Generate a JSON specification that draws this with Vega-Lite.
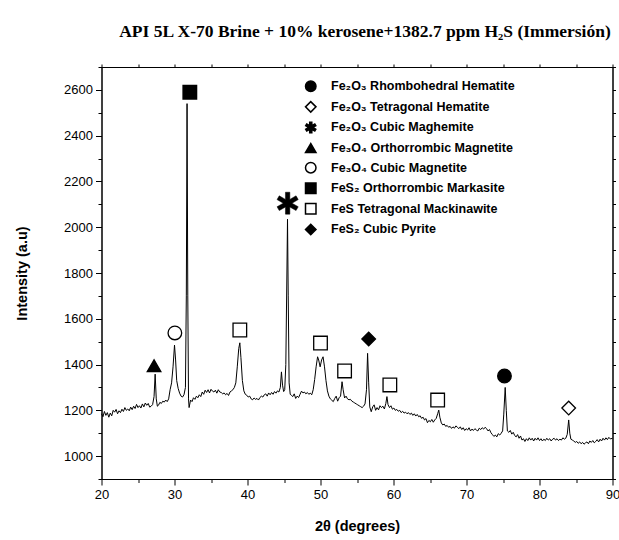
{
  "$schema": "https://vega.github.io/schema/vega-lite/v6.json",
  "autosize": "none",
  "width": 511,
  "height": 412,
  "padding": {"left": 101.5, "top": 67, "right": 7, "bottom": 61},
  "background": "white",
  "title": {
    "text": "API 5L X-70 Brine + 10% kerosene+1382.7 ppm H₂S (Immersión)",
    "font": "Liberation Serif", "fontSize": 17.5, "fontWeight": "bold", "color": "black",
    "anchor": "middle", "offset": 21, "dx": 8
  },
  "datasets": {
    "xrd": [
      {"t":20.0,"i":1185},{"t":20.2,"i":1172},{"t":20.4,"i":1195},{"t":20.6,"i":1178},{"t":20.8,"i":1190},
      {"t":21.0,"i":1170},{"t":21.2,"i":1188},{"t":21.4,"i":1176},{"t":21.6,"i":1200},{"t":21.8,"i":1192},
      {"t":22.0,"i":1204},{"t":22.2,"i":1185},{"t":22.4,"i":1198},{"t":22.6,"i":1190},{"t":22.8,"i":1205},
      {"t":23.0,"i":1195},{"t":23.2,"i":1212},{"t":23.4,"i":1200},{"t":23.6,"i":1206},{"t":23.8,"i":1198},
      {"t":24.0,"i":1214},{"t":24.2,"i":1203},{"t":24.4,"i":1218},{"t":24.6,"i":1208},{"t":24.8,"i":1226},
      {"t":25.0,"i":1212},{"t":25.2,"i":1220},{"t":25.4,"i":1210},{"t":25.6,"i":1228},{"t":25.8,"i":1215},
      {"t":26.0,"i":1232},{"t":26.2,"i":1222},{"t":26.4,"i":1230},{"t":26.6,"i":1214},{"t":26.8,"i":1218},
      {"t":27.0,"i":1225},{"t":27.2,"i":1260},{"t":27.35,"i":1358},{"t":27.5,"i":1250},{"t":27.65,"i":1218},
      {"t":27.8,"i":1222},{"t":28.0,"i":1235},{"t":28.2,"i":1230},{"t":28.4,"i":1240},{"t":28.6,"i":1236},
      {"t":28.8,"i":1245},{"t":29.0,"i":1238},{"t":29.2,"i":1250},{"t":29.4,"i":1290},{"t":29.6,"i":1320},
      {"t":29.8,"i":1390},{"t":30.0,"i":1485},{"t":30.15,"i":1420},{"t":30.3,"i":1330},{"t":30.5,"i":1296},
      {"t":30.7,"i":1275},{"t":30.9,"i":1262},{"t":31.1,"i":1258},{"t":31.3,"i":1268},{"t":31.5,"i":1300},
      {"t":31.62,"i":1700},{"t":31.72,"i":2540},{"t":31.82,"i":1700},{"t":31.92,"i":1250},{"t":32.0,"i":1212},
      {"t":32.2,"i":1245},{"t":32.4,"i":1238},{"t":32.6,"i":1255},{"t":32.8,"i":1248},{"t":33.0,"i":1262},
      {"t":33.2,"i":1255},{"t":33.4,"i":1268},{"t":33.6,"i":1260},{"t":33.8,"i":1280},{"t":34.0,"i":1270},
      {"t":34.2,"i":1288},{"t":34.4,"i":1278},{"t":34.6,"i":1290},{"t":34.8,"i":1276},{"t":35.0,"i":1292},
      {"t":35.2,"i":1284},{"t":35.4,"i":1280},{"t":35.6,"i":1288},{"t":35.8,"i":1275},{"t":36.0,"i":1290},
      {"t":36.2,"i":1280},{"t":36.4,"i":1278},{"t":36.6,"i":1272},{"t":36.8,"i":1276},{"t":37.0,"i":1268},
      {"t":37.2,"i":1274},{"t":37.4,"i":1265},{"t":37.6,"i":1280},{"t":37.8,"i":1285},{"t":38.0,"i":1290},
      {"t":38.2,"i":1300},{"t":38.4,"i":1320},{"t":38.6,"i":1390},{"t":38.8,"i":1470},{"t":38.95,"i":1495},
      {"t":39.1,"i":1430},{"t":39.3,"i":1330},{"t":39.5,"i":1285},{"t":39.7,"i":1270},{"t":39.9,"i":1266},
      {"t":40.1,"i":1258},{"t":40.3,"i":1262},{"t":40.5,"i":1250},{"t":40.7,"i":1246},{"t":40.9,"i":1254},
      {"t":41.1,"i":1248},{"t":41.3,"i":1252},{"t":41.5,"i":1245},{"t":41.7,"i":1256},{"t":41.9,"i":1262},
      {"t":42.1,"i":1258},{"t":42.3,"i":1268},{"t":42.5,"i":1272},{"t":42.7,"i":1262},{"t":42.9,"i":1276},
      {"t":43.1,"i":1268},{"t":43.3,"i":1278},{"t":43.5,"i":1270},{"t":43.7,"i":1282},{"t":43.9,"i":1275},
      {"t":44.1,"i":1285},{"t":44.3,"i":1280},{"t":44.5,"i":1300},{"t":44.65,"i":1368},{"t":44.8,"i":1310},
      {"t":44.95,"i":1282},{"t":45.1,"i":1290},{"t":45.25,"i":1400},{"t":45.4,"i":1800},{"t":45.48,"i":2035},
      {"t":45.58,"i":1700},{"t":45.7,"i":1320},{"t":45.85,"i":1270},{"t":46.0,"i":1266},{"t":46.2,"i":1260},
      {"t":46.4,"i":1272},{"t":46.6,"i":1252},{"t":46.8,"i":1262},{"t":47.0,"i":1256},{"t":47.2,"i":1270},
      {"t":47.4,"i":1284},{"t":47.6,"i":1276},{"t":47.8,"i":1280},{"t":48.0,"i":1272},{"t":48.2,"i":1278},
      {"t":48.4,"i":1270},{"t":48.6,"i":1275},{"t":48.8,"i":1268},{"t":49.0,"i":1290},{"t":49.2,"i":1335},
      {"t":49.4,"i":1390},{"t":49.6,"i":1434},{"t":49.75,"i":1420},{"t":49.95,"i":1390},{"t":50.15,"i":1420},
      {"t":50.35,"i":1434},{"t":50.55,"i":1390},{"t":50.75,"i":1330},{"t":50.95,"i":1285},{"t":51.15,"i":1262},
      {"t":51.35,"i":1250},{"t":51.55,"i":1244},{"t":51.75,"i":1238},{"t":51.95,"i":1252},{"t":52.15,"i":1262},
      {"t":52.35,"i":1240},{"t":52.55,"i":1255},{"t":52.75,"i":1262},{"t":52.95,"i":1325},{"t":53.1,"i":1290},
      {"t":53.3,"i":1254},{"t":53.5,"i":1262},{"t":53.7,"i":1250},{"t":53.9,"i":1246},{"t":54.1,"i":1248},
      {"t":54.3,"i":1240},{"t":54.5,"i":1236},{"t":54.7,"i":1232},{"t":54.9,"i":1228},{"t":55.1,"i":1224},
      {"t":55.3,"i":1220},{"t":55.5,"i":1216},{"t":55.7,"i":1212},{"t":55.9,"i":1218},{"t":56.1,"i":1228},
      {"t":56.3,"i":1290},{"t":56.45,"i":1449},{"t":56.6,"i":1320},{"t":56.75,"i":1215},{"t":56.95,"i":1194},
      {"t":57.15,"i":1215},{"t":57.35,"i":1224},{"t":57.55,"i":1200},{"t":57.75,"i":1212},{"t":57.95,"i":1202},
      {"t":58.15,"i":1220},{"t":58.35,"i":1212},{"t":58.55,"i":1218},{"t":58.75,"i":1206},{"t":58.95,"i":1230},
      {"t":59.1,"i":1260},{"t":59.25,"i":1225},{"t":59.45,"i":1212},{"t":59.65,"i":1220},{"t":59.85,"i":1205},
      {"t":60.05,"i":1210},{"t":60.25,"i":1200},{"t":60.45,"i":1204},{"t":60.65,"i":1196},{"t":60.85,"i":1200},
      {"t":61.05,"i":1190},{"t":61.25,"i":1196},{"t":61.45,"i":1188},{"t":61.65,"i":1192},{"t":61.85,"i":1185},
      {"t":62.05,"i":1190},{"t":62.25,"i":1182},{"t":62.45,"i":1188},{"t":62.65,"i":1178},{"t":62.85,"i":1185},
      {"t":63.05,"i":1175},{"t":63.25,"i":1182},{"t":63.45,"i":1172},{"t":63.65,"i":1176},{"t":63.85,"i":1165},
      {"t":64.05,"i":1170},{"t":64.25,"i":1158},{"t":64.45,"i":1164},{"t":64.65,"i":1146},{"t":64.85,"i":1156},
      {"t":65.05,"i":1150},{"t":65.25,"i":1160},{"t":65.45,"i":1148},{"t":65.65,"i":1158},{"t":65.85,"i":1165},
      {"t":66.05,"i":1185},{"t":66.2,"i":1201},{"t":66.35,"i":1170},{"t":66.55,"i":1145},{"t":66.75,"i":1136},
      {"t":66.95,"i":1140},{"t":67.15,"i":1130},{"t":67.35,"i":1134},{"t":67.55,"i":1126},{"t":67.75,"i":1130},
      {"t":67.95,"i":1121},{"t":68.15,"i":1128},{"t":68.35,"i":1122},{"t":68.55,"i":1132},{"t":68.75,"i":1126},
      {"t":68.95,"i":1120},{"t":69.15,"i":1128},{"t":69.35,"i":1116},{"t":69.55,"i":1124},{"t":69.75,"i":1112},
      {"t":69.95,"i":1120},{"t":70.15,"i":1114},{"t":70.35,"i":1124},{"t":70.55,"i":1110},{"t":70.75,"i":1118},
      {"t":70.95,"i":1112},{"t":71.15,"i":1120},{"t":71.35,"i":1114},{"t":71.55,"i":1110},{"t":71.75,"i":1122},
      {"t":71.95,"i":1116},{"t":72.15,"i":1124},{"t":72.35,"i":1118},{"t":72.55,"i":1126},{"t":72.75,"i":1120},
      {"t":72.95,"i":1110},{"t":73.15,"i":1116},{"t":73.35,"i":1102},{"t":73.55,"i":1094},{"t":73.75,"i":1086},
      {"t":73.95,"i":1092},{"t":74.15,"i":1084},{"t":74.35,"i":1098},{"t":74.55,"i":1092},{"t":74.75,"i":1100},
      {"t":74.95,"i":1110},{"t":75.1,"i":1180},{"t":75.3,"i":1300},{"t":75.45,"i":1200},{"t":75.6,"i":1110},
      {"t":75.8,"i":1104},{"t":76.0,"i":1112},{"t":76.2,"i":1096},{"t":76.4,"i":1104},{"t":76.6,"i":1090},
      {"t":76.8,"i":1084},{"t":77.0,"i":1094},{"t":77.2,"i":1078},{"t":77.4,"i":1088},{"t":77.6,"i":1070},
      {"t":77.8,"i":1076},{"t":78.0,"i":1064},{"t":78.2,"i":1076},{"t":78.4,"i":1068},{"t":78.6,"i":1080},
      {"t":78.8,"i":1070},{"t":79.0,"i":1078},{"t":79.2,"i":1066},{"t":79.4,"i":1078},{"t":79.6,"i":1070},
      {"t":79.8,"i":1080},{"t":80.0,"i":1068},{"t":80.2,"i":1076},{"t":80.4,"i":1066},{"t":80.6,"i":1074},
      {"t":80.8,"i":1068},{"t":81.0,"i":1078},{"t":81.2,"i":1070},{"t":81.4,"i":1076},{"t":81.6,"i":1066},
      {"t":81.8,"i":1074},{"t":82.0,"i":1078},{"t":82.2,"i":1070},{"t":82.4,"i":1076},{"t":82.6,"i":1068},
      {"t":82.8,"i":1074},{"t":83.0,"i":1070},{"t":83.2,"i":1080},{"t":83.4,"i":1074},{"t":83.6,"i":1078},
      {"t":83.8,"i":1095},{"t":84.0,"i":1158},{"t":84.15,"i":1100},{"t":84.3,"i":1074},{"t":84.5,"i":1070},
      {"t":84.7,"i":1066},{"t":84.9,"i":1060},{"t":85.1,"i":1064},{"t":85.3,"i":1056},{"t":85.5,"i":1062},
      {"t":85.7,"i":1054},{"t":85.9,"i":1060},{"t":86.1,"i":1052},{"t":86.3,"i":1058},{"t":86.5,"i":1062},
      {"t":86.7,"i":1054},{"t":86.9,"i":1066},{"t":87.1,"i":1060},{"t":87.3,"i":1068},{"t":87.5,"i":1058},
      {"t":87.7,"i":1064},{"t":87.9,"i":1072},{"t":88.1,"i":1062},{"t":88.3,"i":1074},{"t":88.5,"i":1066},
      {"t":88.7,"i":1078},{"t":88.9,"i":1070},{"t":89.1,"i":1080},{"t":89.3,"i":1072},{"t":89.5,"i":1082},
      {"t":89.7,"i":1075},{"t":90.0,"i":1078}
    ],
    "marks": [
      {"t":32.1,"i":2590,"phase":"FeS₂ Orthorrombic Markasite"},
      {"t":27.2,"i":1395,"phase":"Fe₃O₄ Orthorrombic Magnetite"},
      {"t":30.05,"i":1538,"phase":"Fe₃O₄ Cubic Magnetite"},
      {"t":38.95,"i":1551,"phase":"FeS Tetragonal Mackinawite"},
      {"t":45.5,"i":2105,"phase":"Fe₂O₃ Cubic Maghemite"},
      {"t":50.0,"i":1494,"phase":"FeS Tetragonal Mackinawite"},
      {"t":53.3,"i":1372,"phase":"FeS Tetragonal Mackinawite"},
      {"t":56.6,"i":1512,"phase":"FeS₂ Cubic Pyrite"},
      {"t":59.5,"i":1311,"phase":"FeS Tetragonal Mackinawite"},
      {"t":66.05,"i":1245,"phase":"FeS Tetragonal Mackinawite"},
      {"t":75.2,"i":1350,"phase":"Fe₂O₃ Rhombohedral Hematite"},
      {"t":84.0,"i":1210,"phase":"Fe₂O₃ Tetragonal Hematite"}
    ]
  },
  "layer": [
    {
      "data": {"name": "xrd"},
      "mark": {"type": "line", "color": "black", "strokeWidth": 1},
      "encoding": {
        "x": {"field": "t", "type": "quantitative",
              "scale": {"domain": [20, 90], "nice": false, "zero": false},
              "axis": {"orient": "bottom", "title": "2θ (degrees)",
                       "values": [20,25,30,35,40,45,50,55,60,65,70,75,80,85,90],
                       "labelExpr": "datum.value % 10 === 0 ? datum.label : ''",
                       "tickSize": {"condition": {"test": "datum.value % 10 !== 0", "value": 3.5}, "value": 6},
                       "labelFlush": false, "labelOverlap": false,
                       "labelPadding": 3, "titlePadding": 18}},
        "y": {"field": "i", "type": "quantitative",
              "scale": {"domain": [900, 2700], "nice": false, "zero": false},
              "axis": {"orient": "left", "title": "Intensity (a.u)",
                       "values": [900,1000,1100,1200,1300,1400,1500,1600,1700,1800,1900,2000,2100,2200,2300,2400,2500,2600,2700],
                       "labelExpr": "(datum.value % 200 === 0 && datum.value >= 1000 && datum.value <= 2600) ? datum.label : ''",
                       "tickSize": {"condition": {"test": "datum.value % 200 !== 0", "value": 3.5}, "value": 6},
                       "labelFlush": false, "labelOverlap": false,
                       "format": "d", "labelPadding": 3, "titlePadding": 34}}
      }
    },
    {
      "data": {"name": "marks"},
      "transform": [{"filter": "datum.phase !== 'Fe₂O₃ Cubic Maghemite'"}],
      "mark": {"type": "point", "filled": true, "strokeWidth": 1.3, "size": 185, "opacity": 1},
      "encoding": {
        "x": {"field": "t", "type": "quantitative",
              "axis": {"orient": "top", "title": null, "labels": false,
                       "values": [20,25,30,35,40,45,50,55,60,65,70,75,80,85,90], "tickSize": 3}},
        "y": {"field": "i", "type": "quantitative",
              "axis": {"orient": "right", "title": null, "labels": false,
                       "values": [900,1000,1100,1200,1300,1400,1500,1600,1700,1800,1900,2000,2100,2200,2300,2400,2500,2600,2700], "tickSize": 3}},
        "shape": {"field": "phase", "type": "nominal",
                  "scale": {"domain": ["Fe₂O₃ Rhombohedral Hematite","Fe₂O₃ Tetragonal Hematite","Fe₂O₃ Cubic Maghemite","Fe₃O₄ Orthorrombic Magnetite","Fe₃O₄ Cubic Magnetite","FeS₂ Orthorrombic Markasite","FeS Tetragonal Mackinawite","FeS₂ Cubic Pyrite"],
                            "range": ["circle","diamond","M0.2,-1L-0.2,-1L-0.2,-0.346L-0.766,-0.673L-0.966,-0.327L-0.4,0L-0.966,0.327L-0.766,0.673L-0.2,0.346L-0.2,1L0.2,1L0.2,0.346L0.766,0.673L0.966,0.327L0.4,0L0.966,-0.327L0.766,-0.673L0.2,-0.346Z","triangle-up","circle","square","square","diamond"]},
                  "legend": {"title": null, "orient": "none", "legendX": 203, "legendY": 13,
                             "symbolSize": 110, "symbolStrokeWidth": 1.5,
                             "labelFont": "Liberation Sans", "labelFontSize": 12.5, "labelFontWeight": "bold", "labelColor": "black",
                             "labelOffset": 14, "rowPadding": 3.6, "padding": 0, "labelLimit": 300}},
        "fill": {"field": "phase", "type": "nominal",
                 "scale": {"domain": ["Fe₂O₃ Rhombohedral Hematite","Fe₂O₃ Tetragonal Hematite","Fe₂O₃ Cubic Maghemite","Fe₃O₄ Orthorrombic Magnetite","Fe₃O₄ Cubic Magnetite","FeS₂ Orthorrombic Markasite","FeS Tetragonal Mackinawite","FeS₂ Cubic Pyrite"],
                           "range": ["black","white","black","black","white","black","white","black"]},
                 "legend": {"title": null, "orient": "none", "legendX": 203, "legendY": 13,
                            "symbolSize": 110, "symbolStrokeWidth": 1.5,
                            "labelFont": "Liberation Sans", "labelFontSize": 12.5, "labelFontWeight": "bold", "labelColor": "black",
                            "labelOffset": 14, "rowPadding": 3.6, "padding": 0, "labelLimit": 300}},
        "stroke": {"field": "phase", "type": "nominal",
                   "scale": {"domain": ["Fe₂O₃ Rhombohedral Hematite","Fe₂O₃ Tetragonal Hematite","Fe₂O₃ Cubic Maghemite","Fe₃O₄ Orthorrombic Magnetite","Fe₃O₄ Cubic Magnetite","FeS₂ Orthorrombic Markasite","FeS Tetragonal Mackinawite","FeS₂ Cubic Pyrite"],
                             "range": ["black","black","black","black","black","black","black","black"]},
                   "legend": {"title": null, "orient": "none", "legendX": 203, "legendY": 13,
                              "symbolSize": 110, "symbolStrokeWidth": 1.5,
                              "labelFont": "Liberation Sans", "labelFontSize": 12.5, "labelFontWeight": "bold", "labelColor": "black",
                              "labelOffset": 14, "rowPadding": 3.6, "padding": 0, "labelLimit": 300}}
      }
    },
    {
      "data": {"name": "marks"},
      "transform": [{"filter": "datum.phase === 'Fe₂O₃ Cubic Maghemite'"}],
      "mark": {"type": "point", "filled": true, "strokeWidth": 0.5, "size": 480, "opacity": 1},
      "encoding": {
        "x": {"field": "t", "type": "quantitative", "axis": null},
        "y": {"field": "i", "type": "quantitative", "axis": null},
        "shape": {"field": "phase", "type": "nominal"},
        "fill": {"field": "phase", "type": "nominal"},
        "stroke": {"field": "phase", "type": "nominal"}
      }
    }
  ],
  "resolve": {"axis": {"x": "independent", "y": "independent"}},
  "config": {
    "view": {"stroke": "black", "strokeWidth": 1},
    "axis": {
      "grid": false, "domainColor": "black", "domainWidth": 1, "tickColor": "black", "tickWidth": 1,
      "labelFont": "Liberation Sans", "labelFontSize": 13, "labelColor": "black",
      "titleFont": "Liberation Sans", "titleFontSize": 14.5, "titleFontWeight": "bold", "titleColor": "black"
    }
  }
}
